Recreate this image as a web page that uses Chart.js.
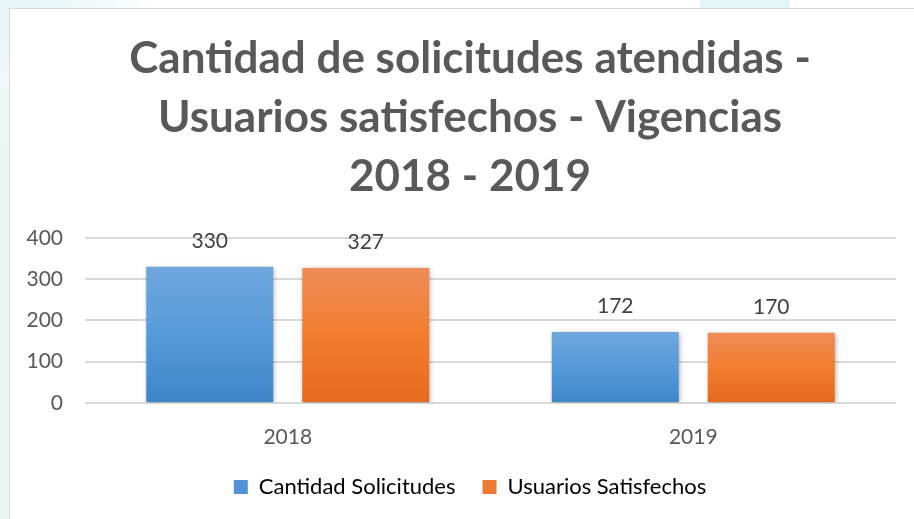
<!DOCTYPE html>
<html>
<head>
<meta charset="utf-8">
<script src="https://cdn.jsdelivr.net/npm/chart.js@4.4.1/dist/chart.umd.min.js"></script>
<style>
  html, body { margin: 0; padding: 0; }
  body {
    width: 914px; height: 519px; overflow: hidden; position: relative;
    background:
      linear-gradient(90deg, rgba(255,255,255,0) 700px, #e4f5f8 700px, #e4f5f8 790px, rgba(255,255,255,0) 790px),
      linear-gradient(135deg, #e3f4f7 0, #eef8f8 60px, rgba(255,255,255,0) 110px),
      linear-gradient(90deg, #ebf6f0 0, #ebf6f0 9px, #ffffff 9px);
  }
  #frame {
    position: absolute; left: 9px; top: 8px; width: 950px; height: 530px;
    background: #fff; border: 1px solid #d9d9d9;
  }
  #wrap { position: absolute; left: 0; top: 0; width: 939px; height: 511px; }
</style>
</head>
<body>
<div id="frame"><div id="wrap"><canvas id="chart"></canvas></div></div>
<script>
const years = ['2018', '2019'];
const solicitudes = [330, 172];
const satisfechos = [327, 170];
const yTicks = [0, 100, 200, 300, 400];
const titleLines = ['Cantidad de solicitudes atendidas -', 'Usuarios satisfechos - Vigencias', '2018 - 2019'];

const FONT = "Lato, 'Open Sans', sans-serif";

function barGradient(ctx, top, mid, bottom) {
    const chart = ctx.chart;
    const y = chart.scales.y;
    if (!y || ctx.parsed === undefined) return bottom;
    const yTop = y.getPixelForValue(ctx.parsed.y);
    const yBase = y.getPixelForValue(0);
    if (!isFinite(yTop) || !isFinite(yBase) || yTop === yBase) return bottom;
    const g = chart.ctx.createLinearGradient(0, yTop, 0, yBase);
    g.addColorStop(0, top);
    g.addColorStop(0.5, mid);
    g.addColorStop(1, bottom);
    return g;
}

const barShadow = {
    id: 'barShadow',
    beforeDatasetsDraw(chart) {
        const c = chart.ctx;
        c.save();
        c.shadowColor = 'rgba(0,0,0,0.35)';
        c.shadowBlur = 5;
        c.shadowOffsetX = 1;
        c.shadowOffsetY = 1;
    },
    afterDatasetsDraw(chart) {
        chart.ctx.restore();
    }
};

const valueLabels = {
    id: 'valueLabels',
    afterDatasetsDraw(chart) {
        const c = chart.ctx;
        c.save();
        c.font = '21px ' + FONT;
        c.fillStyle = '#404040';
        c.textAlign = 'center';
        c.textBaseline = 'middle';
        chart.data.datasets.forEach((ds, i) => {
            chart.getDatasetMeta(i).data.forEach((bar, j) => {
                c.fillText(ds.data[j], bar.x, bar.y - 26);
            });
        });
        c.restore();
    }
};

new Chart(document.getElementById('chart'), {
    type: 'bar',
    data: {
        labels: years,
        datasets: [
            {
                label: 'Cantidad Solicitudes',
                data: solicitudes,
                backgroundColor: ctx => barGradient(ctx, '#70a7dd', '#559ada', '#3e86c9')
            },
            {
                label: 'Usuarios Satisfechos',
                data: satisfechos,
                backgroundColor: ctx => barGradient(ctx, '#f08c58', '#f27d2e', '#e5691c')
            }
        ]
    },
    options: {
        responsive: true,
        maintainAspectRatio: false,
        animation: false,
        categoryPercentage: 0.7694,
        barPercentage: 0.814,
        layout: { padding: { left: 0, right: 19, top: 10, bottom: 12 } },
        plugins: {
            title: {
                display: true,
                text: titleLines,
                color: '#595959',
                font: { family: FONT, size: 44, weight: 'bold', lineHeight: 1.34 },
                padding: { top: 10, bottom: 32 }
            },
            legend: {
                position: 'bottom',
                labels: {
                    color: '#595959',
                    font: { family: FONT, size: 22 },
                    boxWidth: 14,
                    boxHeight: 14,
                    padding: 27,
                    generateLabels(chart) {
                        const cols = ['#4f94d6', '#ee7a33'];
                        return chart.data.datasets.map((ds, i) => ({
                            text: ds.label,
                            fillStyle: cols[i],
                            strokeStyle: cols[i],
                            lineWidth: 0,
                            datasetIndex: i
                        }));
                    }
                }
            },
            tooltip: { enabled: false }
        },
        scales: {
            x: {
                afterFit(scale) { scale.height = 46; },
                grid: { display: false },
                border: { display: false },
                ticks: { color: '#595959', font: { family: FONT, size: 21 }, padding: 14 }
            },
            y: {
                min: 0,
                max: 400,
                afterFit(scale) { scale.width = 75; },
                afterBuildTicks(scale) { scale.ticks = yTicks.map(v => ({ value: v })); },
                grid: { color: '#d9d9d9', lineWidth: 2, drawTicks: false },
                border: { display: false },
                ticks: { color: '#595959', font: { family: FONT, size: 21 }, padding: 22 }
            },
            // empty right-hand box so the title and legend centre like the original
            spacer: {
                type: 'linear',
                position: 'right',
                afterFit(scale) { scale.width = 34; },
                grid: { display: false, drawTicks: false },
                border: { display: false },
                ticks: { display: false }
            }
        }
    },
    plugins: [barShadow, valueLabels]
});
</script>
</body>
</html>
